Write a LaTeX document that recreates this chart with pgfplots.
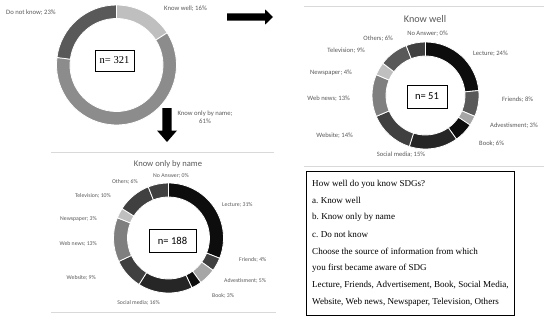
\documentclass[border=0pt]{standalone}
\usepackage{pgfplots}
\usepackage{pgfplotstable}
\pgfplotsset{compat=1.18}
\usepackage{fontspec}
\setmainfont{Carlito}
\newfontfamily\seriffont{Liberation Serif}

\definecolor{lab}{HTML}{595959}
\definecolor{c0d}{HTML}{0D0D0D}
\definecolor{c26}{HTML}{262626}
\definecolor{c40}{HTML}{404040}
\definecolor{c59}{HTML}{595959}
\definecolor{c7f}{HTML}{7F7F7F}
\definecolor{c8c}{HTML}{8C8C8C}
\definecolor{ca6}{HTML}{A6A6A6}
\definecolor{cbf}{HTML}{BFBFBF}
\definecolor{cbl}{HTML}{4472C4}
\definecolor{panel}{HTML}{D9D9D9}

% overall awareness (n = 321)
\pgfplotstableread[col sep=comma]{
name,pct,col
Know well,16,cbf
Know only by name,61,c8c
Do not know,23,c59
}\awareness

% Know only by name (n = 188)
\pgfplotstableread[col sep=comma]{
name,pct,col,lx,ly,anc
Lecture,31,c0d,222,-205,west
Friends,4,c40,239,-260,west
Advestisment,5,ca6,224,-281,west
Book,3,c0d,212,-296,west
Social media,16,c26,138.5,-303,center
Website,9,c40,96,-278,east
Web news,13,c7f,97,-244,east
Newspaper,3,cbf,97,-219,east
Television,10,c40,111,-196,east
Others,6,c40,138,-182,east
No Answer,0,cbl,171,-176,center
}\byname

% Know well (n = 51)
\pgfplotstableread[col sep=comma]{
name,pct,col,lx,ly,anc
Lecture,24,c0d,473,-54,west
Friends,8,c59,502,-100,west
Advestisment,3,ca6,490,-126,west
Book,6,c0d,479,-144,west
Social media,15,c26,401,-155,center
Website,14,c40,353,-136,east
Web news,13,c7f,350,-99,east
Newspaper,4,cbf,352,-73,east
Television,9,c59,365,-51,east
Others,6,c40,393,-39,east
No Answer,0,cbl,427.5,-34,center
}\knowwell

% #1 table, #2 cx, #3 cy, #4 rin, #5 rout, #6 total
\newcommand{\donut}[6]{%
  \pgfplotstablegetrowsof{#1}%
  \pgfmathtruncatemacro\N{\pgfplotsretval-1}%
  \xdef\acur{90}%
  \foreach \i in {0,...,\N}{%
    \pgfplotstablegetelem{\i}{pct}\of{#1}\edef\p{\pgfplotsretval}%
    \pgfplotstablegetelem{\i}{col}\of{#1}\edef\c{\pgfplotsretval}%
    \pgfmathsetmacro\aend{\acur-\p/#6*360}%
    \edef\temp{\noexpand\fill[\c,draw=white,line width=0.8bp]
      ([shift={(\acur:#5bp)}]axis cs:#2,#3) arc[start angle=\acur,end angle=\aend,radius=#5bp]
      -- ([shift={(\aend:#4bp)}]axis cs:#2,#3) arc[start angle=\aend,end angle=\acur,radius=#4bp] -- cycle;}%
    \temp
    \xdef\acur{\aend}%
  }%
}
% #1 table, #2 style
\newcommand{\donutlabels}[2]{%
  \pgfplotstablegetrowsof{#1}%
  \pgfmathtruncatemacro\N{\pgfplotsretval-1}%
  \foreach \i in {0,...,\N}{%
    \pgfplotstablegetelem{\i}{pct}\of{#1}\edef\p{\pgfplotsretval}%
    \pgfplotstablegetelem{\i}{name}\of{#1}\edef\nm{\pgfplotsretval}%
    \pgfplotstablegetelem{\i}{lx}\of{#1}\edef\lx{\pgfplotsretval}%
    \pgfplotstablegetelem{\i}{ly}\of{#1}\edef\ly{\pgfplotsretval}%
    \pgfplotstablegetelem{\i}{anc}\of{#1}\edef\an{\pgfplotsretval}%
    \edef\temp{\noexpand\node[#2,anchor=\an] at (axis cs:\lx,\ly) {\nm; \p\noexpand\%};}%
    \temp
  }%
}

\tikzset{
  lab1/.style={font=\fontsize{6.7}{7.6}\selectfont, text=lab, inner sep=0pt},
  lab2/.style={font=\fontsize{5.8}{7}\selectfont, text=lab, inner sep=0pt},
  lab3/.style={font=\fontsize{6.6}{7.5}\selectfont, text=lab, inner sep=0pt},
  qline/.style={font=\seriffont\fontsize{9.1}{10}\selectfont, anchor=west, inner sep=0pt},
}

\begin{document}
\frenchspacing
\begin{tikzpicture}
\begin{axis}[name=ax, x=1bp, y=1bp, scale only axis, hide axis,
  xmin=0, xmax=550, ymin=-321, ymax=0, clip=false]
\addplot[draw=none, forget plot] coordinates {(0,0) (550,-321)};

% panels
\draw[panel, line width=0.8bp] (axis cs:304,-6) -- (axis cs:544,-6);
\draw[panel, line width=0.8bp] (axis cs:304,-166) -- (axis cs:544,-166);
\draw[panel, line width=0.8bp] (axis cs:51,-152) -- (axis cs:274,-152);
\draw[panel, line width=0.8bp] (axis cs:51,-312) -- (axis cs:276,-312);

% donuts
\donut{\awareness}{116.5}{-65}{46.5}{60}{100}
\donut{\byname}{168.5}{-238}{41}{55}{100}
\donut{\knowwell}{425.5}{-95.5}{39.5}{53.5}{102}
\donutlabels{\byname}{lab2}
\donutlabels{\knowwell}{lab3}

% chart 1 labels
\node[lab1, anchor=west] at (axis cs:6,-12.5) {Do not know; 23\%};
\node[lab1, anchor=west] at (axis cs:164,-9) {Know well; 16\%};
\node[lab1, align=center] at (axis cs:205,-117) {Know only by name;\\61\%};

% n boxes
\node[draw=black, fill=white, line width=0.8bp, minimum width=39bp, minimum height=21bp, inner sep=0pt,
  font=\seriffont\fontsize{10.6}{11}\selectfont] at (axis cs:114.5,-60.5) {n= 321};
\node[draw=black, fill=white, line width=0.8bp, minimum width=47bp, minimum height=23bp, inner sep=0pt,
  font=\fontsize{10.6}{11}\selectfont] at (axis cs:172.5,-240.5) {n= 188};
\node[draw=black, fill=white, line width=0.8bp, minimum width=40bp, minimum height=23bp, inner sep=0pt,
  font=\fontsize{10.6}{11}\selectfont] at (axis cs:427,-96.5) {n= 51};

% titles
\node[font=\fontsize{8.6}{10}\selectfont, text=lab] at (axis cs:168,-164) {Know only by name};
\node[font=\fontsize{10.2}{11}\selectfont, text=lab] at (axis cs:425,-19) {Know well};

% arrows
\fill[black] (axis cs:227,-13.3) -- (axis cs:265,-13.3) -- (axis cs:265,-9.3) -- (axis cs:273,-17)
  -- (axis cs:265,-24.7) -- (axis cs:265,-20.7) -- (axis cs:227,-20.7) -- cycle;
\fill[black] (axis cs:162.3,-108) -- (axis cs:171.7,-108) -- (axis cs:171.7,-130.5) -- (axis cs:177,-130.5)
  -- (axis cs:167,-142) -- (axis cs:157,-130.5) -- (axis cs:162.3,-130.5) -- cycle;

% question box
\draw[black, line width=0.8bp] (axis cs:306,-171) rectangle (axis cs:514,-315);
\node[qline] at (axis cs:312,-184) {How well do you know SDGs?};
\node[qline] at (axis cs:312,-200.5) {a. Know well};
\node[qline] at (axis cs:312,-217.5) {b. Know only by name};
\node[qline] at (axis cs:312,-234.5) {c. Do not know};
\node[qline] at (axis cs:312,-251.5) {Choose the source of information from which};
\node[qline] at (axis cs:312,-268.5) {you first became aware of SDG};
\node[qline] at (axis cs:312,-285.5) {Lecture, Friends, Advertisement, Book, Social Media,};
\node[qline] at (axis cs:312,-302.5) {Website, Web news, Newspaper, Television, Others};
\end{axis}
\pgfresetboundingbox
\path (ax.south west) rectangle (ax.north east);
\end{tikzpicture}
\end{document}
